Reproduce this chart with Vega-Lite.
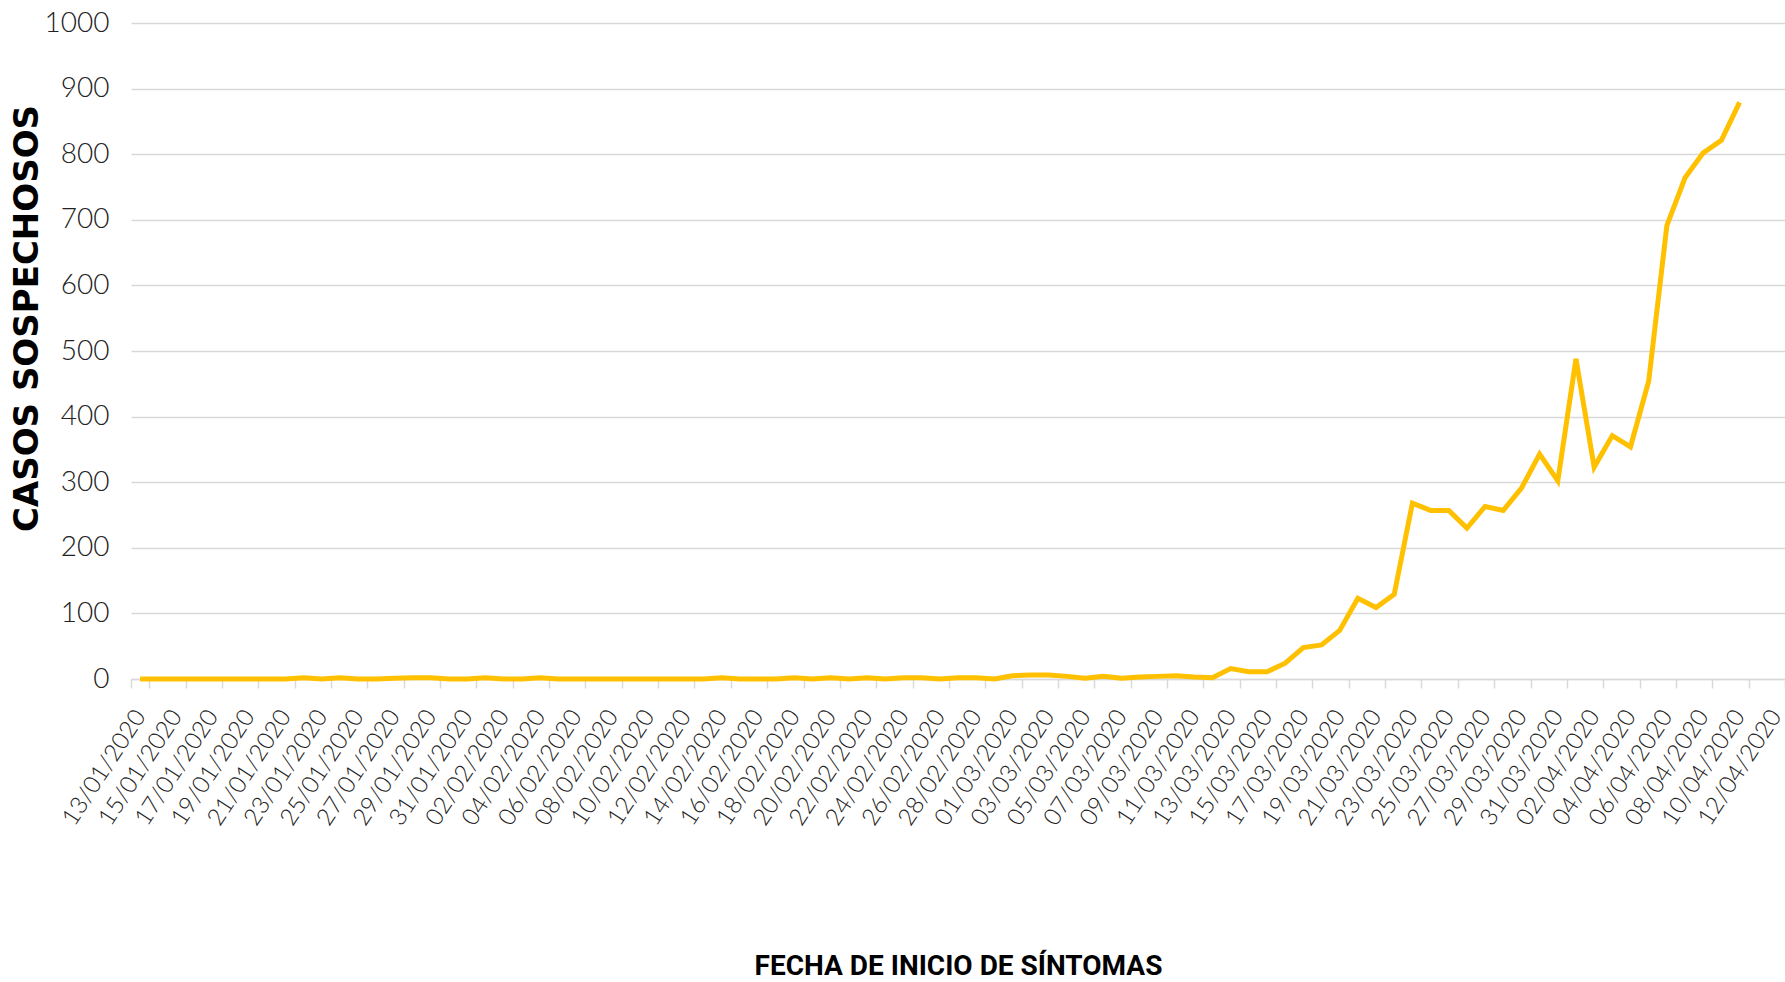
{
  "$schema": "https://vega.github.io/schema/vega-lite/v6.json",
  "width": 1654,
  "height": 656,
  "autosize": {"type": "none"},
  "padding": {"left": 131, "top": 23, "right": 0, "bottom": 303},
  "background": "white",
  "config": {"view": {"stroke": null}},
  "data": {"values": [
    {"fecha": "13/01/2020", "casos": 0}, {"fecha": "14/01/2020", "casos": 0}, {"fecha": "15/01/2020", "casos": 0}, {"fecha": "16/01/2020", "casos": 0}, {"fecha": "17/01/2020", "casos": 0}, {"fecha": "18/01/2020", "casos": 0}, {"fecha": "19/01/2020", "casos": 0}, {"fecha": "20/01/2020", "casos": 0}, {"fecha": "21/01/2020", "casos": 0}, {"fecha": "22/01/2020", "casos": 2}, {"fecha": "23/01/2020", "casos": 0}, {"fecha": "24/01/2020", "casos": 2}, {"fecha": "25/01/2020", "casos": 0}, {"fecha": "26/01/2020", "casos": 0}, {"fecha": "27/01/2020", "casos": 1}, {"fecha": "28/01/2020", "casos": 2}, {"fecha": "29/01/2020", "casos": 2}, {"fecha": "30/01/2020", "casos": 0}, {"fecha": "31/01/2020", "casos": 0},
    {"fecha": "01/02/2020", "casos": 2}, {"fecha": "02/02/2020", "casos": 0}, {"fecha": "03/02/2020", "casos": 0}, {"fecha": "04/02/2020", "casos": 2}, {"fecha": "05/02/2020", "casos": 0}, {"fecha": "06/02/2020", "casos": 0}, {"fecha": "07/02/2020", "casos": 0}, {"fecha": "08/02/2020", "casos": 0}, {"fecha": "09/02/2020", "casos": 0}, {"fecha": "10/02/2020", "casos": 0}, {"fecha": "11/02/2020", "casos": 0}, {"fecha": "12/02/2020", "casos": 0}, {"fecha": "13/02/2020", "casos": 0}, {"fecha": "14/02/2020", "casos": 2}, {"fecha": "15/02/2020", "casos": 0}, {"fecha": "16/02/2020", "casos": 0}, {"fecha": "17/02/2020", "casos": 0}, {"fecha": "18/02/2020", "casos": 2}, {"fecha": "19/02/2020", "casos": 0}, {"fecha": "20/02/2020", "casos": 2}, {"fecha": "21/02/2020", "casos": 0}, {"fecha": "22/02/2020", "casos": 2}, {"fecha": "23/02/2020", "casos": 0}, {"fecha": "24/02/2020", "casos": 2}, {"fecha": "25/02/2020", "casos": 2}, {"fecha": "26/02/2020", "casos": 0}, {"fecha": "27/02/2020", "casos": 2}, {"fecha": "28/02/2020", "casos": 2}, {"fecha": "29/02/2020", "casos": 0},
    {"fecha": "01/03/2020", "casos": 5}, {"fecha": "02/03/2020", "casos": 6}, {"fecha": "03/03/2020", "casos": 6}, {"fecha": "04/03/2020", "casos": 4}, {"fecha": "05/03/2020", "casos": 1}, {"fecha": "06/03/2020", "casos": 4}, {"fecha": "07/03/2020", "casos": 1}, {"fecha": "08/03/2020", "casos": 3}, {"fecha": "09/03/2020", "casos": 4}, {"fecha": "10/03/2020", "casos": 5}, {"fecha": "11/03/2020", "casos": 3}, {"fecha": "12/03/2020", "casos": 2}, {"fecha": "13/03/2020", "casos": 16}, {"fecha": "14/03/2020", "casos": 11}, {"fecha": "15/03/2020", "casos": 11}, {"fecha": "16/03/2020", "casos": 24}, {"fecha": "17/03/2020", "casos": 48}, {"fecha": "18/03/2020", "casos": 52}, {"fecha": "19/03/2020", "casos": 74}, {"fecha": "20/03/2020", "casos": 123}, {"fecha": "21/03/2020", "casos": 109}, {"fecha": "22/03/2020", "casos": 129}, {"fecha": "23/03/2020", "casos": 268}, {"fecha": "24/03/2020", "casos": 257}, {"fecha": "25/03/2020", "casos": 257}, {"fecha": "26/03/2020", "casos": 230}, {"fecha": "27/03/2020", "casos": 263}, {"fecha": "28/03/2020", "casos": 257}, {"fecha": "29/03/2020", "casos": 291}, {"fecha": "30/03/2020", "casos": 343}, {"fecha": "31/03/2020", "casos": 302},
    {"fecha": "01/04/2020", "casos": 488}, {"fecha": "02/04/2020", "casos": 323}, {"fecha": "03/04/2020", "casos": 371}, {"fecha": "04/04/2020", "casos": 354}, {"fecha": "05/04/2020", "casos": 454}, {"fecha": "06/04/2020", "casos": 691}, {"fecha": "07/04/2020", "casos": 764}, {"fecha": "08/04/2020", "casos": 802}, {"fecha": "09/04/2020", "casos": 821}, {"fecha": "10/04/2020", "casos": 879}
  ]},
  "mark": {"type": "line", "color": "#FFC000", "strokeWidth": 5},
  "encoding": {
    "x": {
      "field": "fecha",
      "type": "ordinal",
      "sort": null,
      "scale": {
        "type": "band",
        "paddingInner": 0,
        "paddingOuter": 0,
        "domain": ["13/01/2020","14/01/2020","15/01/2020","16/01/2020","17/01/2020","18/01/2020","19/01/2020","20/01/2020","21/01/2020","22/01/2020","23/01/2020","24/01/2020","25/01/2020","26/01/2020","27/01/2020","28/01/2020","29/01/2020","30/01/2020","31/01/2020","01/02/2020","02/02/2020","03/02/2020","04/02/2020","05/02/2020","06/02/2020","07/02/2020","08/02/2020","09/02/2020","10/02/2020","11/02/2020","12/02/2020","13/02/2020","14/02/2020","15/02/2020","16/02/2020","17/02/2020","18/02/2020","19/02/2020","20/02/2020","21/02/2020","22/02/2020","23/02/2020","24/02/2020","25/02/2020","26/02/2020","27/02/2020","28/02/2020","29/02/2020","01/03/2020","02/03/2020","03/03/2020","04/03/2020","05/03/2020","06/03/2020","07/03/2020","08/03/2020","09/03/2020","10/03/2020","11/03/2020","12/03/2020","13/03/2020","14/03/2020","15/03/2020","16/03/2020","17/03/2020","18/03/2020","19/03/2020","20/03/2020","21/03/2020","22/03/2020","23/03/2020","24/03/2020","25/03/2020","26/03/2020","27/03/2020","28/03/2020","29/03/2020","30/03/2020","31/03/2020","01/04/2020","02/04/2020","03/04/2020","04/04/2020","05/04/2020","06/04/2020","07/04/2020","08/04/2020","09/04/2020","10/04/2020","11/04/2020","12/04/2020"]
      },
      "axis": {
        "values": ["13/01/2020","15/01/2020","17/01/2020","19/01/2020","21/01/2020","23/01/2020","25/01/2020","27/01/2020","29/01/2020","31/01/2020","02/02/2020","04/02/2020","06/02/2020","08/02/2020","10/02/2020","12/02/2020","14/02/2020","16/02/2020","18/02/2020","20/02/2020","22/02/2020","24/02/2020","26/02/2020","28/02/2020","01/03/2020","03/03/2020","05/03/2020","07/03/2020","09/03/2020","11/03/2020","13/03/2020","15/03/2020","17/03/2020","19/03/2020","21/03/2020","23/03/2020","25/03/2020","27/03/2020","29/03/2020","31/03/2020","02/04/2020","04/04/2020","06/04/2020","08/04/2020","10/04/2020","12/04/2020"],
        "tickBand": "extent",
        "grid": false,
        "domainColor": "#d9d9d9",
        "domainWidth": 1.5,
        "tickColor": "#d9d9d9",
        "tickWidth": 1.5,
        "tickSize": 9,
        "labelAngle": -57,
        "labelAlign": "right",
        "labelBaseline": "middle",
        "labelFont": "Lato",
        "labelFontWeight": 300,
        "labelFontSize": 24,
        "labelColor": "#222222",
        "labelPadding": 24,
        "labelOverlap": false,
        "labelBound": false,
        "title": "FECHA DE INICIO DE SÍNTOMAS",
        "titleFont": "Roboto",
        "titleFontWeight": "bold",
        "titleFontSize": 28,
        "titleColor": "#000000",
        "titleBaseline": "middle",
        "titleY": 287
      }
    },
    "y": {
      "field": "casos",
      "type": "quantitative",
      "scale": {"domain": [0, 1000], "nice": false},
      "axis": {
        "values": [0, 100, 200, 300, 400, 500, 600, 700, 800, 900, 1000],
        "format": "d",
        "grid": true,
        "gridColor": "#d9d9d9",
        "gridWidth": 1.5,
        "domain": false,
        "ticks": false,
        "labelFont": "Lato",
        "labelFontWeight": 300,
        "labelFontSize": 28,
        "labelColor": "#222222",
        "labelPadding": 22,
        "title": "CASOS SOSPECHOSOS",
        "titleFont": "DejaVu Sans",
        "titleFontWeight": "bold",
        "titleFontSize": 34,
        "titleColor": "#000000",
        "titleAngle": 270,
        "titleBaseline": "middle",
        "titleAlign": "center",
        "titleX": -104,
        "titleY": 295
      }
    }
  }
}
